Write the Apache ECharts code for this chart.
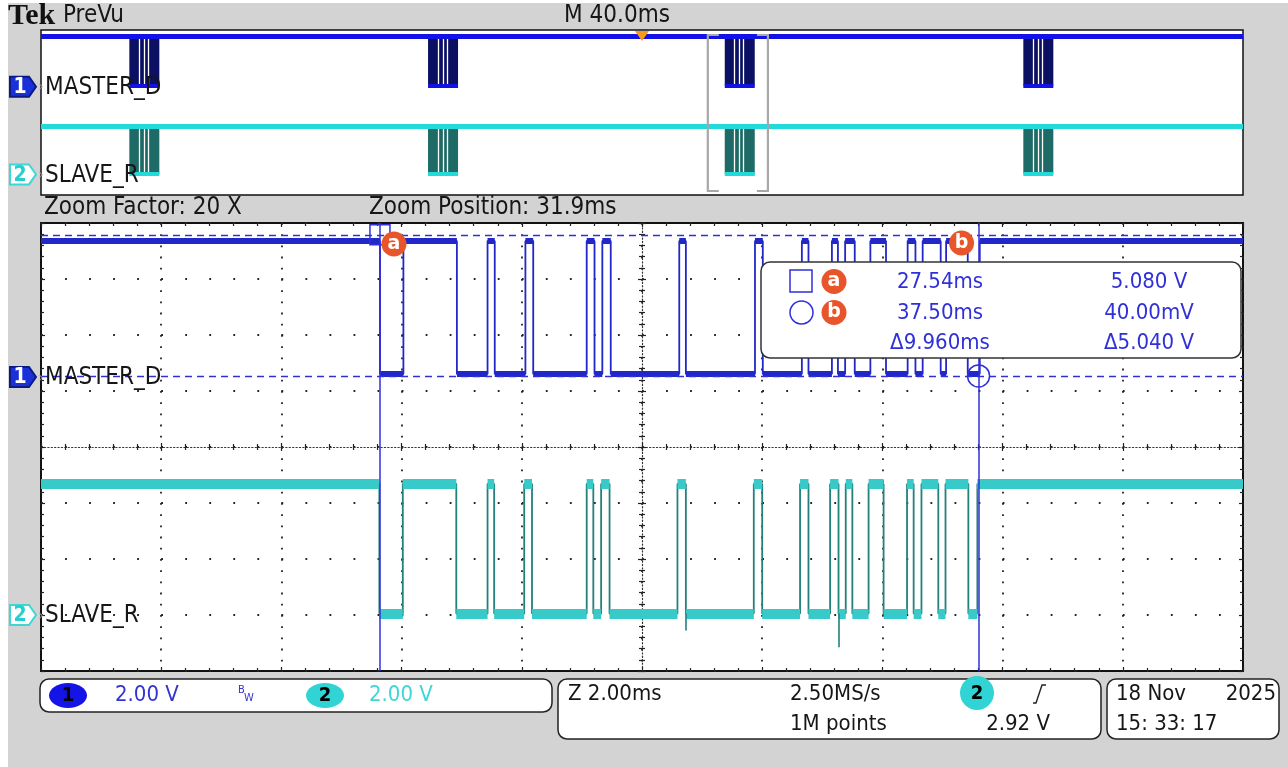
<!DOCTYPE html>
<html>
<head>
<meta charset="utf-8">
<script src="https://cdn.jsdelivr.net/npm/echarts@6/dist/echarts.min.js"></script>
<style>
  html, body { margin: 0; padding: 0; background: #ffffff; }
  #scope { width: 1288px; height: 767px; }
</style>
</head>
<body>
<div id="scope"></div>
<script>
// ---- Acquisition settings -------------------------------------------------
const mainScaleMsPerDiv = 40;      // M 40.0ms
const zoomFactor = 20;             // Zoom Factor: 20 X
const zoomPositionMs = 31.9;       // Zoom Position: 31.9ms
const voltsPerDiv = [2.0, 2.0];    // CH1, CH2
const channelOffsetDiv = [1.25, -3]; // ground marker position, divisions from centre

// ---- Waveforms (ms after trigger); each list starts at the idle-high level ----
const masterEdgesMs = [27.54, 27.93, 28.82, 29.33, 29.45, 29.96, 30.09, 30.98, 31.11, 31.24,
  31.38, 32.52, 32.63, 33.78, 33.91, 34.56, 34.67, 35.06, 35.16, 35.28,
  35.44, 35.70, 35.96, 36.32, 36.45, 36.57, 36.87, 36.96, 37.32, 37.52];
const slaveEdgesMs = [27.53, 27.92, 28.81, 29.33, 29.44, 29.94, 30.07, 30.98, 31.09, 31.22,
  31.36, 32.49, 32.63, 33.76, 33.90, 34.53, 34.67, 35.03, 35.17, 35.29,
  35.40, 35.67, 35.92, 36.31, 36.42, 36.55, 36.83, 36.95, 37.33, 37.48];
const masterLevelsV = [4.86, 0.11];   // high, low
const slaveLevelsV = [4.68, 0.05];
const slaveGlitches = [[32.63, -0.55], [35.17, -1.15]]; // [time ms, minimum V]

// ---- Full-record overview: burst start times (ms) --------------------------
const burstStartsMs = [-170.6, -71.2, 27.54, 126.9];
const burstGapOffsetsMs = [3.3, 4.9, 6.3];

// ---- Cursors -----------------------------------------------------------------
const cursorTimesMs = [27.54, 37.50];
const cursorVolts = [5.08, 0.04];

// ---- Status bar text ----------------------------------------------------------
const triggerLevel = '2.92 V';
const sampleRate = '2.50MS/s';
const recordLength = '1M points';
const zoomScale = 'Z 2.00ms';
const dateText = ['18 Nov', '2025'];
const timeText = '15: 33: 17';

// ---------------------------------------------------------------------------
const FONT = "'DejaVu Sans Condensed', 'Liberation Sans Narrow', 'DejaVu Sans', sans-serif";
const CH1 = '#2228c8', CH1_BRIGHT = '#1212e6', CH1_DARK = '#0b1062';
const CH2 = '#38c9c9', CH2_EDGE = '#23807b', CH2_DARK = '#1d6a66', CH2_TEXT = '#3fd6d6';
const CURSOR = '#3030d8', BADGE = '#e8552a';

const recordHalfMs = mainScaleMsPerDiv * 10 / 2;
const windowMs = mainScaleMsPerDiv * 10 / zoomFactor;
const win0 = zoomPositionMs - windowMs / 2, win1 = zoomPositionMs + windowMs / 2;

function axisRange(ch) {
  const v = voltsPerDiv[ch], o = channelOffsetDiv[ch];
  return [(-4 - o) * v, (4 - o) * v];
}
const r1 = axisRange(0), r2 = axisRange(1);

function stepPoints(edges, levels, t0, t1) {
  const pts = [[t0, levels[0]]];
  let lvl = levels[0];
  edges.forEach(t => {
    pts.push([t, lvl]);
    lvl = lvl === levels[0] ? levels[1] : levels[0];
    pts.push([t, lvl]);
  });
  pts.push([t1, lvl]);
  return pts;
}
function levelSegments(pts) {
  const out = [];
  for (let i = 0; i < pts.length - 1; i++) {
    if (pts[i][1] === pts[i + 1][1]) out.push({ coords: [pts[i], pts[i + 1]] });
  }
  return out;
}
const masterPts = stepPoints(masterEdgesMs, masterLevelsV, win0, win1);
const slavePts = stepPoints(slaveEdgesMs, slaveLevelsV, win0, win1);
const burstLen = masterEdgesMs[masterEdgesMs.length - 1] - masterEdgesMs[0];

function fmtV(v) {
  return Math.abs(v) < 1 ? (v * 1000).toFixed(2) + 'mV' : v.toFixed(3) + ' V';
}

const chart = echarts.init(document.getElementById('scope'), null, { renderer: 'canvas' });

const noLabel = { show: false };
function gratX(pos, opts) {
  return Object.assign({
    type: 'value', gridIndex: 1, min: 0, max: 10, interval: 1, position: pos,
    axisLabel: noLabel, splitLine: { show: false },
    axisLine: { show: false, onZero: false },
    axisTick: { show: true, inside: true, length: 4, lineStyle: { color: '#222', width: 1.2 } },
    minorTick: { show: true, splitNumber: 5, length: 3, lineStyle: { color: '#222', width: 1.2 } }
  }, opts);
}
function gratY(pos, opts) {
  return Object.assign({
    type: 'value', gridIndex: 1, min: -4, max: 4, interval: 1, position: pos,
    axisLabel: noLabel, splitLine: { show: false },
    axisLine: { show: false, onZero: false },
    axisTick: { show: true, inside: true, length: 4, lineStyle: { color: '#222', width: 1.2 } },
    minorTick: { show: true, splitNumber: 5, length: 3, lineStyle: { color: '#222', width: 1.2 } }
  }, opts);
}
const hidden = { axisLabel: noLabel, axisLine: { show: false, onZero: false }, axisTick: { show: false }, splitLine: { show: false } };

const option = {
  animation: false,
  backgroundColor: '#d3d3d3',
  grid: [
    { left: 41, top: 30, width: 1202, height: 165, show: true, backgroundColor: '#ffffff', borderColor: '#111', borderWidth: 1.5, outerBoundsMode: 'none' },
    { left: 41, top: 223, width: 1202, height: 448, show: true, backgroundColor: '#ffffff', borderColor: '#111', borderWidth: 2, outerBoundsMode: 'none' }
  ],
  xAxis: [
    Object.assign({ type: 'value', gridIndex: 0, min: -recordHalfMs, max: recordHalfMs }, hidden),
    Object.assign({ type: 'value', gridIndex: 1, min: win0, max: win1 }, hidden),
    gratX('bottom', { splitLine: { show: true, lineStyle: { color: '#222', width: 1.8, type: [1.8, 9.4] } } }),
    gratX('top'),
    gratX('bottom', { offset: -224, axisTick: { show: true, inside: false, length: 4, lineStyle: { color: '#222', width: 1.2 } },
      axisLine: { show: true, onZero: false, lineStyle: { color: '#333', width: 1.2, type: [1.2, 2.2] } } }),
    gratX('bottom', { offset: -224 })
  ],
  yAxis: [
    Object.assign({ type: 'value', gridIndex: 0, min: r1[0], max: r1[1] }, hidden),
    Object.assign({ type: 'value', gridIndex: 0, min: r2[0], max: r2[1] }, hidden),
    Object.assign({ type: 'value', gridIndex: 1, min: r1[0], max: r1[1] }, hidden),
    Object.assign({ type: 'value', gridIndex: 1, min: r2[0], max: r2[1] }, hidden),
    gratY('left', { splitLine: { show: true, lineStyle: { color: '#222', width: 1.8, type: [1.8, 22.24] } } }),
    gratY('right'),
    gratY('left', { offset: -601, axisTick: { show: true, inside: false, length: 4, lineStyle: { color: '#222', width: 1.2 } },
      axisLine: { show: true, onZero: false, lineStyle: { color: '#333', width: 1.2, type: [1.2, 2.2] } } }),
    gratY('left', { offset: -601 })
  ],
  series: []
};

const S = option.series;

// ---------- overview (PreVu) ----------
function burstBlocks(levels) {
  return burstStartsMs.map(s => [s, s + burstLen, levels[1], levels[0]]);
}
function blockSeries(yIdx, levels, color) {
  return {
    type: 'custom', xAxisIndex: 0, yAxisIndex: yIdx, silent: true, z: 2,
    data: burstBlocks(levels), encode: { x: [0, 1], y: [2, 3] },
    renderItem: (params, api) => {
      const p0 = api.coord([api.value(0), api.value(2)]);
      const p1 = api.coord([api.value(1), api.value(3)]);
      return { type: 'rect', shape: { x: p0[0], y: p1[1], width: p1[0] - p0[0], height: p0[1] - p1[1] }, style: { fill: color } };
    }
  };
}
function gapSeries(yIdx, levels) {
  const d = [];
  burstStartsMs.forEach(s => burstGapOffsetsMs.forEach(o => d.push({ coords: [[s + o, levels[1]], [s + o, levels[0]]] })));
  return { type: 'lines', coordinateSystem: 'cartesian2d', xAxisIndex: 0, yAxisIndex: yIdx, silent: true, z: 3,
    data: d, lineStyle: { color: '#ffffff', width: 1.3, opacity: 1 } };
}
function levelLine(yIdx, coords, color, width) {
  return { type: 'lines', coordinateSystem: 'cartesian2d', xAxisIndex: 0, yAxisIndex: yIdx, silent: true, z: 4,
    data: coords.map(c => ({ coords: c })), lineStyle: { color, width, opacity: 1 } };
}
S.push(blockSeries(0, masterLevelsV, CH1_DARK));
S.push(gapSeries(0, masterLevelsV));
S.push(levelLine(0, [[[-recordHalfMs, masterLevelsV[0]], [recordHalfMs, masterLevelsV[0]]]], CH1_BRIGHT, 5));
S.push(levelLine(0, burstStartsMs.map(s => [[s, masterLevelsV[1]], [s + burstLen, masterLevelsV[1]]]), CH1_BRIGHT, 4));
S.push(blockSeries(1, slaveLevelsV, CH2_DARK));
S.push(gapSeries(1, slaveLevelsV));
S.push(levelLine(1, [[[-recordHalfMs, slaveLevelsV[0]], [recordHalfMs, slaveLevelsV[0]]]], '#22dada', 5));
S.push(levelLine(1, burstStartsMs.map(s => [[s, slaveLevelsV[1]], [s + burstLen, slaveLevelsV[1]]]), '#22dada', 4));

// zoom window bracket
S.push({
  type: 'custom', xAxisIndex: 0, yAxisIndex: 0, silent: true, z: 6,
  data: [[win0, win1, r1[0], r1[1]]], encode: { x: [0, 1], y: [2, 3] },
  renderItem: (params, api) => {
    const a = api.coord([api.value(0), api.value(3)]);
    const b = api.coord([api.value(1), api.value(2)]);
    const top = a[1] + 5, bot = b[1] - 4, arm = 11;
    const st = { stroke: '#a8a8a8', lineWidth: 2.2, fill: null };
    return { type: 'group', children: [
      { type: 'polyline', shape: { points: [[a[0] + arm, top], [a[0], top], [a[0], bot], [a[0] + arm, bot]] }, style: st },
      { type: 'polyline', shape: { points: [[b[0] - arm, top], [b[0], top], [b[0], bot], [b[0] - arm, bot]] }, style: st }
    ] };
  }
});
// trigger position marker
S.push({
  type: 'scatter', xAxisIndex: 0, yAxisIndex: 0, silent: true, z: 7, clip: false,
  data: [[0, r1[1]]], symbol: 'triangle', symbolRotate: 180, symbolSize: [14, 10], symbolOffset: [0, 6],
  itemStyle: { color: '#f59a1e', opacity: 1 }
});

// ---------- zoomed window ----------
S.push({
  type: 'line', xAxisIndex: 1, yAxisIndex: 2, data: masterPts, showSymbol: false, silent: true, z: 3,
  lineStyle: { color: CH1, width: 1.8 },
  markLine: {
    silent: true, symbol: 'none', label: { show: false },
    lineStyle: { color: CURSOR, width: 1.5, type: 'solid' },
    data: [
      { xAxis: cursorTimesMs[0] }, { xAxis: cursorTimesMs[1] },
      { yAxis: cursorVolts[0], lineStyle: { type: [7, 5], width: 1.4 } },
      { yAxis: cursorVolts[1], lineStyle: { type: [7, 5], width: 1.4 } }
    ]
  }
});
S.push({ type: 'lines', coordinateSystem: 'cartesian2d', xAxisIndex: 1, yAxisIndex: 2, silent: true, z: 4,
  data: levelSegments(masterPts), lineStyle: { color: CH1, width: 6, opacity: 1 } });
S.push({ type: 'line', xAxisIndex: 1, yAxisIndex: 3, data: slavePts, showSymbol: false, silent: true, z: 3,
  lineStyle: { color: CH2_EDGE, width: 1.8 } });
S.push({ type: 'lines', coordinateSystem: 'cartesian2d', xAxisIndex: 1, yAxisIndex: 3, silent: true, z: 4,
  data: levelSegments(slavePts), lineStyle: { color: CH2, width: 10, opacity: 1 } });
S.push({ type: 'lines', coordinateSystem: 'cartesian2d', xAxisIndex: 1, yAxisIndex: 3, silent: true, z: 4,
  data: slaveGlitches.map(g => ({ coords: [[g[0], slaveLevelsV[1]], [g[0], g[1]]] })),
  lineStyle: { color: CH2_EDGE, width: 1.6, opacity: 1 } });

// cursor handles
S.push({
  type: 'scatter', xAxisIndex: 1, yAxisIndex: 2, silent: true, z: 8, clip: false,
  data: [
    { value: [cursorTimesMs[0], cursorVolts[0]], symbol: 'rect', symbolSize: 20 },
    { value: [cursorTimesMs[1], cursorVolts[1]], symbol: 'circle', symbolSize: 22 }
  ],
  itemStyle: { color: 'rgba(255,255,255,0)', borderColor: CURSOR, borderWidth: 1.5, opacity: 1 }
});
S.push({
  type: 'scatter', xAxisIndex: 1, yAxisIndex: 2, silent: true, z: 9, clip: false,
  data: [
    { value: [cursorTimesMs[0], r1[1]], symbolOffset: [14, 21], label: { formatter: 'a' } },
    { value: [cursorTimesMs[1], r1[1]], symbolOffset: [-17, 20], label: { formatter: 'b' } }
  ],
  symbol: 'circle', symbolSize: 25, itemStyle: { color: BADGE, opacity: 1 },
  label: { show: true, position: 'inside', color: '#fff', fontWeight: 'bold', fontSize: 19, fontFamily: 'DejaVu Sans' }
});

chart.setOption(option);

// ---------- text, readouts and decorations ----------
function txt(x, y, s, size, fill, align, weight, family) {
  const a = align || 'left';
  return { type: 'text', x, y, z: 100,
    style: { text: s, fill: fill || '#161616', font: (weight ? weight + ' ' : '') + (size || 22) + 'px ' + (family || FONT),
      align: a, verticalAlign: 'middle', textAlign: a, textVerticalAlign: 'middle' } };
}
function rrect(x, y, w, h, r, fill, stroke, lw) {
  return { type: 'rect', z: 90, shape: { x, y, width: w, height: h, r }, style: { fill, stroke, lineWidth: lw || 1.5 } };
}
function marker(ch, x, y) {
  const pts = [[x, y - 10], [x + 19, y - 10], [x + 26, y], [x + 19, y + 10], [x, y + 10]];
  const filled = ch === 1;
  return [
    { type: 'polygon', z: 95, shape: { points: pts },
      style: { fill: filled ? '#1a30d8' : '#ffffff', stroke: filled ? '#0d1a80' : CH2_TEXT, lineWidth: 2 } },
    txt(x + 10, y + 1, String(ch), 21, filled ? '#ffffff' : '#25cfcf', 'center', 'bold'),
    txt(x + 31, y + 1, '\u203a', 14, '#888888', 'center')
  ];
}

const y1p = chart.convertToPixel({ yAxisIndex: 0 }, 0);
const y2p = chart.convertToPixel({ yAxisIndex: 1 }, 0);
const y1m = chart.convertToPixel({ yAxisIndex: 2 }, 0);
const y2m = chart.convertToPixel({ yAxisIndex: 3 }, 0);

const dT = cursorTimesMs[1] - cursorTimesMs[0];
const dV = cursorVolts[0] - cursorVolts[1];
const LBL = 24;

const g = [
  { type: 'rect', z: 1, shape: { x: 0, y: 0, width: 8, height: 767 }, style: { fill: '#ffffff' } },
  { type: 'rect', z: 1, shape: { x: 0, y: 0, width: 1288, height: 3 }, style: { fill: '#ffffff' } },
  txt(8, 16, 'Tek', 30, '#111', 'left', 'bold', '"Liberation Serif", "DejaVu Serif", serif'),
  txt(63, 16, 'PreVu', LBL),
  txt(617, 16, 'M ' + mainScaleMsPerDiv.toFixed(1) + 'ms', LBL, '#161616', 'center'),
  txt(44, 208, 'Zoom Factor: ' + zoomFactor + ' X', LBL),
  txt(369, 208, 'Zoom Position: ' + zoomPositionMs.toFixed(1) + 'ms', LBL),
  // channel labels
  txt(45, y1p + 1, 'MASTER_D', LBL), txt(45, y2p + 1, 'SLAVE_R', LBL),
  txt(45, y1m + 1, 'MASTER_D', LBL), txt(45, y2m + 1, 'SLAVE_R', LBL),
  ...marker(1, 10, y1p), ...marker(2, 10, y2p), ...marker(1, 10, y1m), ...marker(2, 10, y2m),
  // cursor readout
  rrect(761, 262, 480, 96, 9, '#ffffff', '#333', 1.5),
  { type: 'rect', z: 100, shape: { x: 790, y: 270, width: 22, height: 22 }, style: { fill: null, stroke: CURSOR, lineWidth: 1.5 } },
  { type: 'circle', z: 100, shape: { cx: 801.5, cy: 312.5, r: 11.5 }, style: { fill: null, stroke: CURSOR, lineWidth: 1.5 } },
  { type: 'circle', z: 100, shape: { cx: 834, cy: 281.5, r: 12.5 }, style: { fill: BADGE } },
  { type: 'circle', z: 100, shape: { cx: 834, cy: 312.5, r: 12.5 }, style: { fill: BADGE } },
  txt(834, 281, 'a', 19, '#fff', 'center', 'bold', '"DejaVu Sans"'),
  txt(834, 312, 'b', 19, '#fff', 'center', 'bold', '"DejaVu Sans"'),
  txt(940, 282, cursorTimesMs[0].toFixed(2) + 'ms', 22, CURSOR, 'center'),
  txt(940, 313, cursorTimesMs[1].toFixed(2) + 'ms', 22, CURSOR, 'center'),
  txt(940, 343, '\u0394' + dT.toFixed(3) + 'ms', 22, CURSOR, 'center'),
  txt(1149, 282, fmtV(cursorVolts[0]), 22, CURSOR, 'center'),
  txt(1149, 313, fmtV(cursorVolts[1]), 22, CURSOR, 'center'),
  txt(1149, 343, '\u0394' + fmtV(dV), 22, CURSOR, 'center'),
  // status bar: vertical settings
  rrect(40, 679, 512, 33, 9, '#ffffff', '#222', 1.5),
  { type: 'ellipse', z: 100, shape: { cx: 68, cy: 695.5, rx: 19, ry: 12.5 }, style: { fill: '#1414e6' } },
  txt(68, 696, '1', 20, '#000', 'center', 'bold'),
  txt(115, 695, voltsPerDiv[0].toFixed(2) + ' V', 22, '#3434d4'),
  txt(238, 690, 'B', 11, '#3434d4'), txt(244, 698, 'W', 11, '#3434d4'),
  { type: 'ellipse', z: 100, shape: { cx: 325, cy: 695.5, rx: 19, ry: 12.5 }, style: { fill: '#30d4d4' } },
  txt(325, 696, '2', 20, '#000', 'center', 'bold'),
  txt(369, 695, voltsPerDiv[1].toFixed(2) + ' V', 22, CH2_TEXT),
  // status bar: timebase and trigger
  rrect(558, 679, 543, 60, 9, '#ffffff', '#222', 1.5),
  txt(568, 694, zoomScale, 22),
  txt(790, 694, sampleRate, 22),
  txt(790, 724, recordLength, 22),
  { type: 'circle', z: 100, shape: { cx: 977, cy: 693, r: 17 }, style: { fill: '#30d4d4' } },
  txt(977, 694, '2', 20, '#000', 'center', 'bold'),
  { type: 'polyline', z: 100, shape: { points: [[1033, 703], [1036, 703], [1042, 685], [1046, 685]] }, style: { stroke: '#222', lineWidth: 1.4, fill: null } },
  txt(1050, 724, triggerLevel, 22, '#161616', 'right'),
  // status bar: date and time
  rrect(1107, 679, 172, 60, 9, '#ffffff', '#222', 1.5),
  txt(1116, 694, dateText[0], 22),
  txt(1276, 694, dateText[1], 22, '#161616', 'right'),
  txt(1116, 724, timeText, 22)
];

chart.setOption({ graphic: { elements: g } });
</script>
</body>
</html>
